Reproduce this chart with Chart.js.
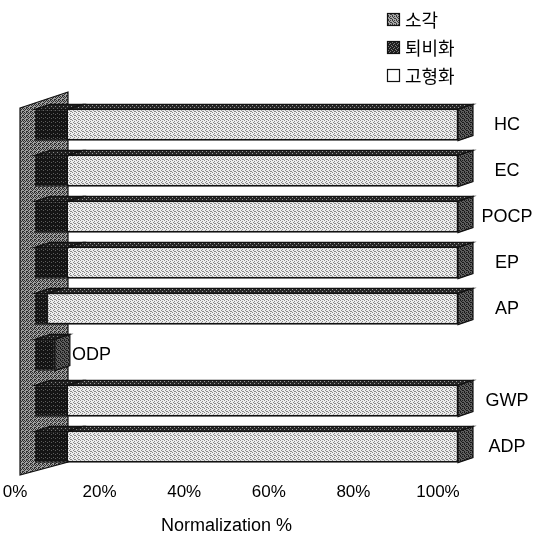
<!DOCTYPE html>
<html>
<head>
<meta charset="utf-8">
<script src="https://cdn.jsdelivr.net/npm/chart.js@4/dist/chart.umd.min.js"></script>
<style>
  html, body { margin: 0; padding: 0; background: #ffffff; }
  #wrap { width: 537px; height: 534px; }
</style>
</head>
<body>
<div id="wrap"><canvas id="c" width="537" height="534"></canvas></div>
<script>
// Impact categories, top to bottom
const categories = ['HC', 'EC', 'POCP', 'EP', 'AP', 'ODP', 'GWP', 'ADP'];
// Normalization % per treatment option
const composting     = [7.8, 7.8, 7.8, 7.8, 3.1, 4.7, 7.8, 7.8];      // 퇴비화
const incineration   = [92.2, 92.2, 92.2, 92.2, 96.9, 0, 92.2, 92.2]; // 소각
const solidification = [0, 0, 0, 0, 0, 0, 0, 0];                      // 고형화
const xTicks = [0, 20, 40, 60, 80, 100];
const legendNames = ['소각', '퇴비화', '고형화'];
const axisTitle = 'Normalization %';

// small fixed dot tiles that give the printed, screened look
function tile(base, dot, pts) {
  const cv = document.createElement('canvas');
  cv.width = 4; cv.height = 4;
  const g = cv.getContext('2d');
  g.fillStyle = base; g.fillRect(0, 0, 4, 4);
  g.fillStyle = dot;
  pts.forEach(p => g.fillRect(p[0], p[1], 1, 1));
  return g.createPattern(cv, 'repeat');
}
const ctx = document.getElementById('c').getContext('2d');
const lightFace = tile('#eeeeee', '#8a8a8a', [[0,0],[2,1],[1,2],[3,3],[2,3]]);
const darkFace  = tile('#141414', '#5c5c5c', [[1,1],[3,2]]);
const sideFace  = tile('#5e5e5e', '#1a1a1a', [[0,0],[2,0],[1,1],[3,2],[0,3],[2,2]]);
const topDark   = tile('#1e1e1e', '#8a8a8a', [[1,0],[3,2]]);
const topLight  = tile('#262626', '#9a9a9a', [[0,1],[2,3]]);
const wallFill  = tile('#a0a0a0', '#2e2e2e', [[0,0],[2,0],[1,1],[3,1],[0,2],[2,3],[3,3]]);
const swatchGray = tile('#a8a8a8', '#3c3c3c', [[0,0],[2,0],[1,1],[3,2],[0,3],[2,2]]);
const swatchDark = tile('#202020', '#7a7a7a', [[1,0],[3,1],[0,2],[2,3]]);

const DX = 15, DY = 5; // depth offset of the 3D boxes

const depthPlugin = {
  id: 'depth',
  beforeDatasetsDraw(chart) {
    const { ctx, chartArea: a, scales } = chart;
    const x0 = scales.x.getPixelForValue(0);
    const left = x0 - 15, right = x0 + 33;
    ctx.save();
    ctx.beginPath();
    ctx.moveTo(left, a.top + 6);
    ctx.lineTo(right, a.top - 10);
    ctx.lineTo(right, a.bottom - 8);
    ctx.lineTo(left, a.bottom + 5);
    ctx.closePath();
    ctx.fillStyle = wallFill;
    ctx.fill();
    ctx.lineWidth = 1.2;
    ctx.strokeStyle = '#111';
    ctx.stroke();
    ctx.restore();
  },
  afterDatasetsDraw(chart) {
    const { ctx } = chart;
    const metas = chart.data.datasets.map((d, i) => chart.getDatasetMeta(i));
    const n = chart.data.labels.length;
    ctx.save();
    ctx.lineWidth = 1.2;
    ctx.strokeStyle = '#111';
    for (let j = 0; j < n; j++) {
      let last = null;
      metas.forEach((m, i) => {
        const el = m.data[j];
        const v = chart.data.datasets[i].data[j];
        if (!el || !v) return;
        const p = el.getProps(['x', 'y', 'base', 'height'], true);
        const x1 = Math.min(p.x, p.base), x2 = Math.max(p.x, p.base);
        const top = p.y - p.height / 2;
        ctx.beginPath();
        ctx.moveTo(x1, top);
        ctx.lineTo(x1 + DX, top - DY);
        ctx.lineTo(x2 + DX, top - DY);
        ctx.lineTo(x2, top);
        ctx.closePath();
        ctx.fillStyle = i === 0 ? topDark : topLight;
        ctx.fill();
        ctx.stroke();
        last = { x2, top, bottom: p.y + p.height / 2 };
      });
      if (last) {
        ctx.beginPath();
        ctx.moveTo(last.x2, last.top);
        ctx.lineTo(last.x2 + DX, last.top - DY);
        ctx.lineTo(last.x2 + DX, last.bottom - DY);
        ctx.lineTo(last.x2, last.bottom);
        ctx.closePath();
        ctx.fillStyle = sideFace;
        ctx.fill();
        ctx.stroke();
      }
    }
    ctx.restore();
  },
  afterDraw(chart) {
    const { ctx, chartArea: a, scales } = chart;
    const xs = scales.x, ys = scales.y;
    ctx.save();
    ctx.fillStyle = '#000';
    // category names beside the bars
    ctx.font = '18px "Liberation Sans", Arial, sans-serif';
    ctx.textBaseline = 'middle';
    chart.data.labels.forEach((lab, j) => {
      const total = chart.data.datasets.reduce((s, d) => s + (d.data[j] || 0), 0);
      const y = ys.getPixelForValue(j);
      if (total < 50) {
        ctx.textAlign = 'left';
        ctx.fillText(lab, xs.getPixelForValue(total) + 17, y);
      } else {
        ctx.textAlign = 'center';
        ctx.fillText(lab, a.right + 49, y);
      }
    });
    // axis title, centred under the tick labels
    ctx.font = '18px "Liberation Sans", Arial, sans-serif';
    ctx.textAlign = 'center';
    const cx = (xs.getPixelForValue(0) + xs.getPixelForValue(100)) / 2 + xs.options.ticks.labelOffset;
    ctx.fillText(axisTitle, cx, a.bottom + 56);
    // legend
    const fills = [swatchGray, swatchDark, '#ffffff'];
    ctx.font = '18px "Noto Sans CJK KR", sans-serif';
    ctx.textAlign = 'left';
    legendNames.forEach((name, i) => {
      const cy = 19.5 + i * 28;
      ctx.fillStyle = fills[i];
      ctx.fillRect(387, cy - 6.5, 13, 13);
      ctx.lineWidth = 1.2;
      ctx.strokeStyle = '#111';
      ctx.strokeRect(387.5, cy - 6, 12, 12);
      ctx.fillStyle = '#000';
      ctx.fillText(name, 405, cy + 1);
    });
    ctx.restore();
  }
};

new Chart(ctx, {
  type: 'bar',
  data: {
    labels: categories,
    datasets: [
      { label: '퇴비화', data: composting, backgroundColor: darkFace, borderColor: '#111', borderWidth: 1 },
      { label: '소각', data: incineration, backgroundColor: lightFace, borderColor: '#111',
        borderWidth: { top: 1, right: 1.5, bottom: 2, left: 0 } },
      { label: '고형화', data: solidification, backgroundColor: '#ffffff', borderColor: '#111', borderWidth: 1 }
    ]
  },
  options: {
    indexAxis: 'y',
    responsive: false,
    devicePixelRatio: 1,
    animation: false,
    layout: { padding: { top: 102, left: 35, right: 79, bottom: 0 } },
    datasets: { bar: { categoryPercentage: 0.68, barPercentage: 1 } },
    plugins: { legend: { display: false }, tooltip: { enabled: false } },
    scales: {
      x: {
        stacked: true,
        min: 0, max: 100,
        afterBuildTicks(scale) { scale.ticks = xTicks.map(v => ({ value: v })); },
        afterFit(scale) { scale.height = 64; },
        grid: { display: false, drawTicks: false },
        border: { display: false },
        ticks: {
          labelOffset: -20,
          padding: 12,
          color: '#000',
          font: { family: '"Liberation Sans", Arial, sans-serif', size: 17 },
          callback: v => v + '%'
        }
      },
      y: {
        stacked: true,
        display: false
      }
    }
  },
  plugins: [depthPlugin]
});
</script>
</body>
</html>
